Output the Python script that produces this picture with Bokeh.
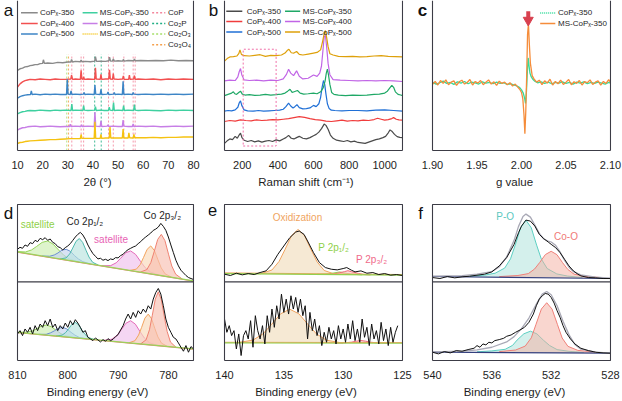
import numpy as np
from bokeh.plotting import figure
from bokeh.models import Range1d, FixedTicker, NumeralTickFormatter
from bokeh.layouts import row, column
from bokeh.core.properties import value
from bokeh.embed import file_html
from bokeh.resources import INLINE

FONT = "Liberation Sans"
AX = "#3c3c46"
TXT = "#1e1e1e"

# ---------------- (a) XRD ----------------
xrd_x_350 = [10, 11, 12, 13, 14, 15, 16, 17, 18, 19, 20, 20.3, 20.7, 22, 24, 26, 28, 30, 31.2, 31.5, 31.9, 33, 35, 35.3, 35.7, 37, 39,
             40.7, 41.0, 41.4, 43, 45, 46.3, 46.6, 47, 47.8, 48.1, 48.5, 50, 51.8, 52.1, 52.5, 54, 56.2, 56.5, 56.9, 59, 62, 65, 68, 71, 74, 77, 80]
xrd_y_350 = [250, 255, 257, 261, 262, 265, 266, 268, 268, 271, 272, 283, 272, 273, 272, 275, 274, 276, 276, 284, 276, 278, 277, 282, 277, 278, 277,
             279, 293, 278, 279, 278, 280, 291, 279, 279, 286, 279, 280, 279, 284, 279, 281, 280, 285, 280, 281, 280, 281, 280, 282, 280, 281, 280]
xrd_x_400 = [10, 11, 12, 13, 14, 15, 17, 19, 21, 23, 25, 27, 29, 31.2, 31.5, 31.9, 33, 35.0, 35.3, 35.6, 36.1, 36.3, 36.6, 38, 40.7, 41.0, 41.3,
             42.9, 43.2, 43.5, 45, 46.3, 46.6, 46.9, 47.8, 48.1, 48.4, 50, 51.8, 52.1, 52.4, 54.2, 54.5, 54.8, 56.2, 56.5, 56.8, 58, 61, 64, 67, 70, 73, 76, 80]
xrd_y_400 = [198, 208, 214, 218, 220, 222, 221, 223, 222, 221, 223, 222, 222, 223, 235, 222, 223, 222, 250, 223, 222, 230, 222, 223, 222, 258, 223,
             222, 238, 222, 223, 223, 252, 223, 222, 240, 223, 222, 223, 233, 222, 222, 235, 222, 223, 234, 222, 223, 222, 223, 221, 223, 222, 223, 222]
xrd_x_500 = [10, 11, 12, 13, 14, 15.2, 15.5, 15.8, 17, 19, 21, 23, 25, 27, 29.5, 29.8, 30.1, 31.0, 31.3, 31.6, 33, 35, 36.2, 36.5, 36.8, 38,
             40.5, 40.8, 41.1, 42.9, 43.2, 43.5, 45.7, 46.0, 46.3, 48.2, 48.5, 48.8, 50, 51.7, 52.0, 52.3, 54, 55.7, 56.0, 56.3, 58, 61, 64, 67, 70, 73, 76, 80]
xrd_y_500 = [163, 168, 171, 173, 174, 175, 186, 175, 176, 174, 176, 175, 176, 175, 175, 222, 176, 175, 186, 175, 176, 175, 176, 181, 175, 176,
             175, 204, 176, 175, 191, 175, 176, 183, 175, 176, 181, 175, 176, 175, 216, 175, 176, 175, 181, 176, 175, 176, 175, 176, 175, 176, 175, 176]
xrd_x_ms350 = [10, 11, 12, 13, 14, 15, 17, 19, 21, 23, 25, 27, 29, 31.3, 31.6, 31.9, 33, 36.0, 36.3, 36.6, 38, 40.7, 41.0, 41.3, 43, 44.5,
               46.2, 46.5, 46.8, 47.9, 48.2, 48.5, 50, 51.9, 52.2, 52.5, 54, 56.2, 56.5, 56.8, 58, 61, 64, 67, 70, 73, 76, 80]
xrd_y_ms350 = [114, 118, 121, 122, 124, 125, 124, 126, 125, 124, 126, 125, 126, 125, 145, 125, 126, 125, 140, 126, 125, 126, 137, 125, 126, 125,
               125, 135, 126, 125, 150, 125, 126, 125, 140, 125, 126, 125, 143, 126, 125, 126, 125, 124, 126, 125, 126, 125]
xrd_x_ms400 = [10, 11, 12, 13, 14, 15, 17, 19, 21, 23, 25, 27, 29, 30.7, 31.0, 31.3, 33, 35.2, 35.5, 35.8, 38, 40.5, 40.8, 41.1, 42.9, 43.2, 43.5,
               45.7, 46.0, 46.3, 48, 50, 51.7, 52.0, 52.3, 54, 55.7, 56.0, 56.3, 58, 61, 64, 67, 70, 73, 76, 80]
xrd_y_ms400 = [64, 68, 71, 72, 74, 75, 76, 74, 75, 76, 75, 74, 75, 75, 82, 75, 76, 75, 80, 75, 76, 75, 120, 76, 75, 93, 75,
               76, 80, 75, 76, 75, 75, 95, 76, 75, 75, 83, 75, 76, 75, 76, 74, 75, 76, 75, 76]
xrd_x_ms500 = [10, 11, 12, 13, 14, 15, 17, 19, 21, 23, 25, 27, 29, 31, 33, 35.0, 35.3, 35.6, 38, 40.5, 40.8, 41.1, 42.9, 43.2, 43.5, 45,
               46.5, 46.8, 47.1, 49, 51.7, 52.0, 52.3, 54.0, 54.3, 54.6, 56.0, 56.3, 56.6, 58, 61, 64, 67, 70, 73, 76, 80]
xrd_y_ms500 = [22, 25, 26, 28, 29, 30, 31, 32, 33, 34, 34, 35, 36, 37, 37, 37, 50, 38, 38, 38, 90, 38, 38, 50, 38, 39,
               39, 73, 39, 39, 39, 67, 39, 39, 55, 40, 39, 50, 40, 40, 40, 41, 40, 41, 41, 42, 42]
ref_cop = [31.6, 35.3, 36.3, 46.2, 48.1, 52.3, 56.0, 56.8]
ref_co2p = [40.7, 43.3]
ref_co2o3 = [29.6]
ref_co3o4 = [30.3]
ref_line_top = 300
xrd_ticks = [10, 20, 30, 40, 50, 60, 70, 80]

# ---------------- (b) Raman ----------------
ram_x_350 = [100, 115, 130, 145, 160, 172, 182, 190, 198, 210, 230, 250, 270, 290, 310, 330, 350, 370, 390, 410,
             430, 445, 460, 475, 490, 505, 520, 540, 560, 580, 600, 615, 630, 645, 660, 670, 682, 695, 710, 730,
             750, 770, 790, 810, 830, 850, 870, 890, 910, 930, 950, 970, 990, 1005, 1020, 1030, 1040, 1055, 1070, 1085, 1100]
ram_y_350 = [22, 30, 36, 34, 44, 38, 48, 54, 40, 32, 28, 31, 27, 30, 26, 29, 31, 28, 33, 30,
             36, 40, 47, 38, 36, 40, 44, 38, 36, 40, 46, 50, 57, 68, 82, 78, 66, 48, 38, 32,
             30, 28, 31, 27, 29, 25, 24, 22, 26, 30, 34, 36, 40, 44, 55, 64, 60, 50, 43, 41, 40]
ram_x_400 = [100, 130, 160, 190, 220, 250, 280, 310, 340, 370, 400, 430, 460, 490, 520, 550, 580, 610, 640, 670,
             700, 730, 760, 790, 820, 850, 880, 910, 940, 960, 980, 1000, 1020, 1040, 1050, 1065, 1080, 1100]
ram_y_400 = [90, 93, 91, 95, 93, 92, 95, 93, 94, 96, 95, 97, 99, 102, 105, 103, 99, 96, 94, 91,
             90, 92, 94, 91, 93, 92, 94, 93, 96, 100, 97, 94, 96, 99, 102, 97, 95, 94]
ram_x_500 = [100, 120, 140, 160, 175, 183, 190, 197, 210, 230, 260, 290, 320, 350, 380, 410, 430, 445, 460, 472,
             485, 495, 507, 520, 540, 560, 580, 600, 615, 630, 640, 648, 656, 663, 670, 678, 688, 700, 720, 760,
             800, 850, 900, 950, 1000, 1050, 1100]
ram_y_500 = [122, 124, 123, 126, 134, 148, 154, 140, 126, 123, 122, 124, 122, 123, 124, 125, 128, 136, 147, 138,
             132, 136, 142, 133, 129, 130, 132, 140, 136, 145, 165, 195, 217, 205, 175, 145, 130, 125, 124, 123,
             124, 124, 123, 125, 126, 124, 122]
ram_x_ms350 = [100, 120, 140, 150, 158, 168, 180, 190, 200, 215, 240, 270, 300, 330, 360, 390, 420, 440, 455, 468,
               480, 495, 510, 525, 545, 570, 600, 620, 640, 655, 665, 672, 678, 684, 692, 702, 715, 740, 780, 820,
               860, 900, 940, 970, 1000, 1015, 1030, 1040, 1050, 1060, 1075, 1090, 1100]
ram_y_ms350 = [170, 174, 178, 182, 176, 174, 180, 184, 175, 172, 173, 171, 172, 174, 172, 173, 175, 178, 184, 190,
               180, 183, 186, 178, 175, 176, 178, 176, 182, 195, 215, 240, 252, 235, 205, 180, 174, 172, 170, 172,
               171, 172, 174, 175, 178, 184, 195, 202, 196, 182, 174, 172, 170]
ram_x_ms400 = [100, 130, 160, 175, 183, 190, 197, 210, 240, 280, 320, 360, 400, 430, 448, 460, 472, 488, 505, 520,
               540, 570, 600, 620, 635, 645, 653, 660, 667, 674, 682, 692, 710, 750, 800, 850, 900, 950, 1000, 1050, 1100]
ram_y_ms400 = [216, 218, 217, 228, 245, 254, 235, 219, 217, 218, 216, 218, 217, 222, 236, 252, 240, 232, 247, 230,
               222, 224, 234, 230, 240, 262, 310, 352, 357, 320, 270, 235, 220, 218, 217, 216, 217, 216, 217, 216, 214]
ram_x_ms500 = [100, 115, 130, 150, 170, 180, 187, 195, 210, 240, 270, 300, 330, 360, 390, 420, 440, 452, 462, 475,
               490, 505, 520, 540, 570, 600, 620, 640, 652, 660, 667, 674, 682, 692, 710, 740, 780, 820, 860, 900,
               940, 980, 1020, 1060, 1100]
ram_y_ms500 = [277, 285, 290, 291, 293, 300, 312, 298, 294, 293, 295, 297, 292, 295, 294, 296, 302, 310, 314, 303,
               302, 307, 298, 296, 299, 302, 304, 312, 340, 362, 372, 350, 322, 300, 296, 292, 291, 292, 290, 291,
               293, 294, 292, 291, 290]
ram_box_x = [205, 390]
ram_box_y = [14, 314]
ram_ticks = [200, 400, 600, 800, 1000]

# ---------------- (c) EPR ----------------
epr_x_cop = [1.900, 1.904, 1.908, 1.912, 1.916, 1.920, 1.924, 1.928, 1.932, 1.936,
             1.940, 1.944, 1.948, 1.952, 1.956, 1.960, 1.964, 1.968, 1.972, 1.976,
             1.980, 1.984, 1.988, 1.992, 1.995, 1.998, 2.000, 2.002, 2.0035, 2.0045,
             2.0055, 2.0065, 2.0075, 2.0085, 2.0095, 2.011, 2.013, 2.015, 2.018, 2.022,
             2.026, 2.030, 2.034, 2.038, 2.042, 2.046, 2.050, 2.054, 2.058, 2.062,
             2.066, 2.070, 2.074, 2.078, 2.082, 2.086, 2.090, 2.094, 2.098, 2.100]
epr_y_cop = [212, 206, 210, 215, 208, 211, 205, 213, 209, 214,
             207, 212, 210, 206, 213, 209, 211, 207, 212, 208,
             210, 205, 207, 203, 200, 195, 188, 178, 162, 146,
             180, 240, 287, 262, 240, 228, 220, 215, 210, 213,
             208, 212, 207, 211, 209, 213, 208, 211, 206, 212,
             209, 213, 207, 211, 208, 212, 209, 206, 211, 209]
epr_x_ms = [1.900, 1.903, 1.906, 1.909, 1.912, 1.915, 1.918, 1.921, 1.924, 1.927,
            1.930, 1.933, 1.936, 1.939, 1.942, 1.945, 1.948, 1.951, 1.954, 1.957,
            1.960, 1.963, 1.966, 1.969, 1.972, 1.975, 1.978, 1.981, 1.984, 1.987,
            1.990, 1.993, 1.996, 1.998, 2.000, 2.0015, 2.0028, 2.0038, 2.0048, 2.0058,
            2.0068, 2.0078, 2.0088, 2.010, 2.012, 2.014, 2.017, 2.020, 2.023, 2.026,
            2.029, 2.032, 2.035, 2.038, 2.041, 2.044, 2.047, 2.050, 2.053, 2.056,
            2.059, 2.062, 2.065, 2.068, 2.071, 2.074, 2.077, 2.080, 2.083, 2.086,
            2.089, 2.092, 2.095, 2.098, 2.100]
epr_y_ms = [205, 214, 203, 217, 208, 219, 204, 212, 216, 202,
            213, 218, 206, 211, 220, 203, 214, 209, 217, 204,
            212, 219, 206, 213, 202, 215, 208, 212, 204, 210,
            200, 206, 196, 190, 180, 160, 110, 52, 120, 230,
            360, 392, 330, 270, 232, 222, 212, 218, 204, 216,
            209, 221, 203, 214, 207, 218, 205, 212, 220, 204,
            213, 208, 217, 203, 214, 210, 219, 205, 212, 216,
            203, 214, 208, 220, 210]
arrow_g = [2.0076]
arrow_head_y = [404]
arrow_tail_y = [432]
epr_ticks = [1.90, 1.95, 2.00, 2.05, 2.10]

# ---------------- (d) Co 2p XPS ----------------
co_x = [810, 809.5, 809, 808.5, 808, 807.5, 807, 806.5, 806, 805.5, 805, 804.5, 804, 803.5, 803, 802.5, 802, 801.5,
        801, 800.5, 800, 799.5, 799, 798.5, 798, 797.5, 797, 796.5, 796, 795.5, 795, 794.5, 794, 793.5, 793, 792.5,
        792, 791.5, 791, 790.5, 790, 789.5, 789, 788.5, 788, 787.5, 787, 786.5, 786, 785.5, 785, 784.5, 784, 783.5,
        783, 782.5, 782, 781.5, 781, 780.5, 780, 779.5, 779, 778.5, 778, 777.5, 777, 776.5, 776, 775.5, 775]
co_top_y = [335, 341, 338, 348, 344, 355, 352, 362, 358, 368, 364, 370, 362, 366, 356, 352, 343, 340,
            333, 340, 345, 352, 362, 372, 380, 386, 378, 365, 348, 334, 322, 314, 306, 308, 302, 305,
            301, 306, 304, 310, 309, 316, 320, 328, 334, 338, 342, 345, 352, 358, 366, 372, 378, 384,
            392, 396, 402, 413, 404, 392, 372, 348, 325, 302, 285, 272, 264, 256, 250, 247, 244]
co_bot_y = [80, 90, 75, 95, 85, 100, 80, 105, 90, 110, 100, 120, 105, 125, 100, 110, 90, 105,
            95, 113, 100, 120, 107, 123, 113, 100, 85, 90, 70, 65, 60, 68, 62, 56, 63, 58,
            66, 60, 64, 72, 78, 92, 105, 125, 140, 125, 145, 130, 150, 140, 155, 145, 165, 155,
            185, 205, 217, 200, 165, 125, 100, 85, 70, 65, 53, 40, 28, 45, 25, 42, 35]
co_top_bg_x = [810, 775]
co_top_bg_y = [327, 240]
co_bot_bg_x = [810, 775]
co_bot_bg_y = [85, 35]
co_top_comps = [
    ([810, 808.4, 807.2, 806.2, 805.1, 804, 802.9, 801.8, 800.8, 799.6, 797.6], [1, 4, 13, 26, 41, 48, 41, 26, 13, 4, 0]),
    ([805.1, 803.6, 802.7, 801.95, 801.13, 800.3, 799.47, 798.65, 797.9, 797.0, 795.5], [0, 3, 9, 17, 28, 32, 28, 17, 9, 3, 0]),
    ([801.54, 800.34, 799.62, 799.02, 798.36, 797.7, 797.04, 796.38, 795.78, 795.06, 793.86], [0, 6, 20, 39, 61, 71, 61, 39, 20, 6, 0]),
    ([793.26, 791.46, 790.38, 789.48, 788.49, 787.5, 786.51, 785.52, 784.62, 783.54, 781.74], [0, 5, 16, 32, 51, 59, 51, 32, 16, 5, 0]),
    ([787.66, 786.36, 785.58, 784.93, 784.22, 783.5, 782.78, 782.07, 781.42, 780.64, 779.34], [0, 7, 23, 46, 72, 84, 72, 46, 23, 7, 0]),
    ([785.56, 784.26, 783.48, 782.83, 782.12, 781.4, 780.68, 779.97, 779.32, 778.54, 777.24], [0, 11, 34, 68, 107, 124, 107, 68, 34, 11, 0]),
]
co_bot_comps = [
    ([809.96, 808.16, 807.08, 806.18, 805.19, 804.2, 803.21, 802.22, 801.32, 800.24, 798.44], [0, 3, 8, 16, 26, 30, 26, 16, 8, 3, 0]),
    ([805.8, 804.3, 803.4, 802.65, 801.83, 801, 800.17, 799.35, 798.6, 797.7, 796.2], [0, 2, 8, 15, 24, 28, 24, 15, 8, 2, 0]),
    ([802.34, 801.14, 800.42, 799.82, 799.16, 798.5, 797.84, 797.18, 796.58, 795.86, 794.66], [0, 4, 13, 25, 40, 46, 40, 25, 13, 4, 0]),
    ([792.94, 791.24, 790.22, 789.37, 788.44, 787.5, 786.56, 785.63, 784.78, 783.76, 782.06], [0, 6, 19, 37, 58, 67, 58, 37, 19, 6, 0]),
    ([787.84, 786.64, 785.92, 785.32, 784.66, 784, 783.34, 782.68, 782.08, 781.36, 780.16], [0, 8, 26, 50, 79, 92, 79, 50, 26, 8, 0]),
    ([785.52, 784.42, 783.76, 783.21, 782.6, 782, 781.4, 780.79, 780.24, 779.58, 778.48], [0, 14, 45, 88, 139, 162, 139, 88, 45, 14, 0]),
]
co_comp_colors = [("#cdeeb0", "#95d45a"), ("#c3d2ee", "#6b8fd0"), ("#b8e4df", "#4fb8ad"),
                  ("#f0c0ec", "#e46ab8"), ("#f9d9b8", "#f2a35e"), ("#f7bfb0", "#ef8272")]
co_ticks = [810, 800, 790, 780]

# ---------------- (e) P 2p XPS ----------------
p_top_x = [140, 139.5, 139, 138.5, 138, 137.5, 137, 136.5, 136, 135.5, 135, 134.5, 134, 133.7, 133.3, 133, 132.5,
           132, 131.5, 131, 130.5, 130, 129.7, 129.3, 129, 128.5, 128, 127.5, 127, 126.5, 126, 125.5, 125]
p_top_y = [260, 256, 263, 258, 262, 259, 265, 270, 290, 320, 345, 370, 387, 390, 380, 360, 325,
           295, 280, 275, 273, 277, 280, 272, 267, 270, 263, 265, 259, 262, 257, 259, 256]
p_bot_x = [140, 139.8, 139.6, 139.4, 139.2, 139, 138.8, 138.6, 138.4, 138.2, 138, 137.8, 137.6, 137.4, 137.2,
           137, 136.8, 136.6, 136.4, 136.2, 136, 135.8, 135.6, 135.4, 135.2, 135, 134.8, 134.6, 134.4, 134.2,
           134, 133.8, 133.6, 133.4, 133.2, 133, 132.8, 132.6, 132.4, 132.2, 132, 131.8, 131.6, 131.4, 131.2,
           131, 130.8, 130.6, 130.4, 130.2, 130, 129.8, 129.6, 129.4, 129.2, 129, 128.8, 128.6, 128.4, 128.2,
           128, 127.8, 127.6, 127.4, 127.2, 127, 126.8, 126.6, 126.4, 126.2, 126, 125.8, 125.6, 125.4]
p_bot_y = [125, 85, 105, 75, 90, 35, 80, 15, 75, 90, 65, 120, 40, 135, 90,
           65, 105, 50, 135, 85, 155, 100, 165, 125, 200, 145, 185, 140, 195, 155,
           190, 145, 185, 135, 165, 65, 145, 90, 125, 75, 105, 45, 85, 55, 100,
           65, 90, 50, 105, 65, 95, 55, 110, 65, 120, 60, 95, 55, 125, 70,
           100, 45, 110, 65, 90, 50, 115, 60, 95, 45, 100, 55, 85, 105]
p_top_bg_x = [140, 125]
p_top_bg_y = [262, 257]
p_bot_bg_x = [140, 125]
p_bot_bg_y = [53, 52]
p_top_comps = [
    ([137.0, 136.0, 135.4, 134.9, 134.35, 133.8, 133.25, 132.7, 132.2, 131.6, 130.6], [0, 12, 38, 74, 116, 135, 116, 74, 38, 12, 0]),
    ([132.2, 131.6, 131.2, 130.6, 130.3, 130.0, 129.4, 129.0, 128.4], [0, 1, 2, 6, 8, 6, 2, 1, 0]),
    ([131.5, 130.9, 130.5, 129.9, 129.6, 129.3, 128.7, 128.3, 127.7], [0, 1, 4, 9, 12, 9, 4, 1, 0]),
]
p_bot_comps = [
    ([138.98, 137.58, 136.74, 136.04, 135.27, 134.5, 133.73, 132.96, 132.26, 131.42, 130.02], [0, 9, 28, 56, 88, 102, 88, 56, 28, 9, 0]),
    ([130.7, 129.9, 129.3, 128.9, 128.5, 128.1, 127.7, 127.1, 126.3], [0, 1, 3, 6, 8, 6, 3, 1, 0]),
]
p_comp_colors = [("#f1ddbd", "#f0a460"), ("#d8f0b8", "#92d050"), ("#f8c6c6", "#f06a7a")]
p_ticks = [140, 135, 130, 125]

# ---------------- (f) O 1s XPS ----------------
o_top_x = [540, 539.5, 539, 538.5, 538, 537.5, 537, 536.5, 536, 535.5, 535, 534.5, 534.2, 534, 533.7, 533.4,
           533.1, 532.8, 532.5, 532.2, 532, 531.7, 531.4, 531.1, 530.8, 530.5, 530.2, 530, 529.5, 529, 528.5, 528]
o_top_y = [250, 247, 253, 249, 252, 254, 257, 260, 267, 285, 310, 350, 385, 405, 423, 420,
           405, 380, 367, 357, 350, 340, 325, 305, 285, 270, 260, 255, 250, 249, 247, 247]
o_bot_x = [540, 539.6, 539.2, 538.8, 538.4, 538, 537.6, 537.2, 537, 536.8, 536.6, 536.4, 536.2, 536, 535.8,
           535.5, 535.2, 535, 534.7, 534.4, 534.1, 533.8, 533.5, 533.2, 533, 532.8, 532.6, 532.4, 532.2, 532,
           531.8, 531.6, 531.4, 531.2, 531, 530.7, 530.4, 530, 529.5, 529, 528.5, 528]
o_bot_y = [25, 20, 27, 23, 30, 28, 33, 37, 45, 40, 50, 47, 55, 53, 60,
           63, 67, 73, 77, 85, 92, 100, 115, 140, 165, 185, 195, 202, 200, 190,
           173, 150, 130, 105, 85, 65, 50, 37, 30, 25, 23, 22]
o_top_env_x = [540, 538, 537, 536, 535.5, 535, 534.5, 534.2, 533.9, 533.7, 533.4, 533.1, 532.8, 532.5, 532.2, 532,
               531.7, 531.4, 531.1, 530.8, 530.5, 530, 529, 528]
o_top_env_y = [254, 256, 260, 268, 282, 312, 362, 404, 434, 441, 432, 408, 383, 366, 360, 357,
               347, 327, 302, 281, 268, 258, 251, 248]
o_bot_env_x = [540, 538, 537, 536, 535, 534.5, 534, 533.5, 533, 532.6, 532.3, 532, 531.6, 531.2, 530.8, 530.4, 530, 529, 528]
o_bot_env_y = [26, 28, 32, 40, 56, 72, 96, 128, 170, 200, 208, 198, 165, 118, 78, 48, 34, 25, 22]
o_top_bg_x = [540, 528]
o_top_bg_y = [253, 247]
o_bot_bg_x = [540, 528]
o_bot_bg_y = [25, 22]
o_top_comps = [
    ([537.5, 536.5, 535.78, 535.13, 534.74, 534.42, 534.06, 533.7, 533.34, 532.98, 532.66, 532.27, 531.62, 530.9, 529.9],
     [2, 6, 12, 28, 56, 98, 150, 173, 150, 98, 56, 28, 12, 6, 2]),
    ([535.5, 534.24, 533.54, 533.12, 532.77, 532.39, 532.0, 531.61, 531.23, 530.88, 530.46, 529.76, 528.5],
     [2, 6, 12, 26, 46, 70, 80, 70, 46, 26, 12, 6, 2]),
]
o_bot_comps = [
    ([537, 536.0, 535.1, 534.6, 534.3, 533.84, 533.4, 532.96, 532.52, 532.1, 531.6, 530.8, 529.8],
     [2, 5, 10, 22, 38, 57, 65, 57, 38, 22, 10, 5, 2]),
    ([535.5, 534.4, 533.75, 533.34, 533.02, 532.66, 532.3, 531.94, 531.58, 531.26, 530.87, 530.2, 529.0],
     [3, 8, 20, 45, 86, 132, 151, 132, 86, 45, 20, 8, 3]),
]
o_comp_colors = [("#a9e2da", "#5ccfc2"), ("#f4ad9f", "#ef8079")]
o_ticks = [540, 536, 532, 528]


# ---------------- helpers ----------------
def xy(x, y):
    n = min(len(x), len(y))
    return list(x[:n]), list(y[:n])


class Panel:
    def __init__(self, w, h, xr, yr, L, fw, fh, mr, mt, mb, box, ticks, xlabel, fmt=None, ls=3, als=4, lab_off=10):
        self.x0, self.x1 = xr
        self.y0, self.y1 = yr
        self.dx = (self.x1 - self.x0) / fw
        self.dy = (self.y1 - self.y0) / fh
        self.L = L
        self.lab_off = lab_off
        p = figure(width=w, height=h,
                   x_range=Range1d(self.x0 - L * self.dx, self.x1 + 1 * self.dx),
                   y_range=Range1d(self.y0 - 1 * self.dy, self.y1 + 1 * self.dy),
                   output_backend="svg", toolbar_location=None,
                   min_border_left=0, min_border_right=mr, min_border_top=mt, min_border_bottom=mb)
        p.background_fill_color = "white"
        p.border_fill_color = "white"
        p.outline_line_color = None
        p.xgrid.visible = False
        p.ygrid.visible = False
        p.yaxis.visible = False
        ax = p.xaxis[0]
        ax.ticker = FixedTicker(ticks=ticks)
        ax.axis_line_color = None
        ax.major_tick_line_color = None
        ax.minor_tick_line_color = None
        ax.major_label_text_font = FONT
        ax.major_label_text_font_size = "11px"
        ax.major_label_text_color = TXT
        ax.major_label_standoff = ls
        ax.axis_label = xlabel
        ax.axis_label_text_font = FONT
        ax.axis_label_text_font_size = "11.5px"
        ax.axis_label_text_font_style = "normal"
        ax.axis_label_text_color = TXT
        ax.axis_label_standoff = als
        if fmt:
            ax.formatter = NumeralTickFormatter(format=fmt)
        self.p = p
        self.box = box

    def frame_lines(self):
        p, x0, x1, y0, y1 = self.p, self.x0, self.x1, self.y0, self.y1
        if self.box:
            p.line([x0, x0, x1, x1, x0], [y0, y1, y1, y0, y0], line_color=AX, line_width=1.1)
        else:
            top = y1 + 1 * self.dy
            p.line([x0, x0], [y0, top], line_color=AX, line_width=1.1)
            p.line([x1, x1], [y0, top], line_color=AX, line_width=1.1)
            p.line([x0, x1], [y0, y0], line_color=AX, line_width=1.1)

    def hline(self, yv):
        self.p.line([self.x0, self.x1], [yv, yv], line_color=AX, line_width=1.2)

    def label(self, txt, bold=False):
        self.p.text(x=[self.x0 - self.lab_off * self.dx], y=[self.y1 + 1 * self.dy], text=[txt],
                    text_font=value(FONT), text_font_size="17px", text_color="#111111",
                    text_align="center", text_baseline="top",
                    text_font_style="bold" if bold else "normal")

    def legend(self, items, x0f, x1f, xtf, yfs, size="8px"):
        X0, X1, Y0, Y1 = self.x0, self.x1, self.y0, self.y1
        for (lab, col, dash), yf in zip(items, yfs):
            y = Y1 - yf * (Y1 - Y0)
            self.p.line([X0 + x0f * (X1 - X0), X0 + x1f * (X1 - X0)], [y, y], line_color=col, line_width=1.5, line_dash=dash)
            self.p.text(x=[X0 + xtf * (X1 - X0)], y=[y], text=[lab], text_font=value(FONT), text_font_size=size,
                        text_baseline="middle", text_align="left", text_color=TXT)

    def note(self, x, y, txt, color, size="10px"):
        self.p.text(x=[x], y=[y], text=[txt], text_font=value(FONT), text_font_size=size,
                    text_baseline="middle", text_align="center", text_color=color)

    def comps(self, comps, colors, bgx, bgy, alpha=0.65):
        slope = (bgy[1] - bgy[0]) / (bgx[1] - bgx[0])
        for (cx, ch), (fill, line) in zip(comps, colors):
            cx, ch = xy(cx, ch)
            cx = np.array(cx, dtype=float)
            base = bgy[0] + (cx - bgx[0]) * slope
            top = base + np.array(ch, dtype=float)
            self.p.varea(x=cx, y1=base, y2=top, fill_color=fill, fill_alpha=alpha)
            self.p.line(cx, top, line_color=line, line_width=1)


TOP_H, BOT_H = 190, 210
FH1, FH2 = 154, 160

# ---------------- panel a ----------------
A = Panel(208, TOP_H, (10, 80), (0, 465), 17, 176, FH1, 14, 0, 34, False, xrd_ticks, "2θ (°)", lab_off=9)
pa = A.p
for pos_list, col in [(ref_cop, "#f3869c"), (ref_co2p, "#1fae84"), (ref_co2o3, "#a6df6a"), (ref_co3o4, "#f5a04c")]:
    for xv in pos_list:
        pa.line([xv, xv], [0, ref_line_top], line_color=col, line_width=1, line_dash="2 2", line_alpha=0.85)
a_series = [(xrd_x_350, xrd_y_350, "#8a8a8a"), (xrd_x_400, xrd_y_400, "#f25050"), (xrd_x_500, xrd_y_500, "#3d85c6"),
            (xrd_x_ms350, xrd_y_ms350, "#3fd0a0"), (xrd_x_ms400, xrd_y_ms400, "#c77ee6"), (xrd_x_ms500, xrd_y_ms500, "#f5c211")]
for xs_, ys_, col in a_series:
    X, Y = xy(xs_, ys_)
    pa.line(X, Y, line_color=col, line_width=1.4)
A.frame_lines()
A.legend([("CoPₓ-350", "#8a8a8a", "solid"), ("CoPₓ-400", "#f25050", "solid"), ("CoPₓ-500", "#3d85c6", "solid")],
         0.02, 0.115, 0.128, [0.075, 0.148, 0.218])
A.legend([("MS-CoPₓ-350", "#3fd0a0", "solid"), ("MS-CoPₓ-400", "#c77ee6", "solid"), ("MS-CoPₓ-500", "#f5c211", "1 1")],
         0.37, 0.455, 0.468, [0.075, 0.148, 0.218])
A.legend([("CoP", "#f3869c", "2 2"), ("Co₂P", "#1fae84", "2 2"), ("Co₂O₃", "#a6df6a", "2 2"), ("Co₃O₄", "#f5a04c", "2 2")],
         0.765, 0.84, 0.855, [0.075, 0.148, 0.218, 0.29])
A.label("a")

# ---------------- panel b ----------------
B = Panel(209, TOP_H, (100, 1100), (0, 462), 16, 178, FH1, 14, 0, 34, False, ram_ticks, "Raman shift (cm⁻¹)", lab_off=11)
pb = B.p
b_series = [(ram_x_350, ram_y_350, "#4a4a4a"), (ram_x_400, ram_y_400, "#f03c3c"), (ram_x_500, ram_y_500, "#1f6fd6"),
            (ram_x_ms350, ram_y_ms350, "#1fa866"), (ram_x_ms400, ram_y_ms400, "#c165e6"), (ram_x_ms500, ram_y_ms500, "#dea00a")]
for xs_, ys_, col in b_series:
    X, Y = xy(xs_, ys_)
    pb.line(X, Y, line_color=col, line_width=1.2)
pb.line([ram_box_x[0], ram_box_x[1], ram_box_x[1], ram_box_x[0], ram_box_x[0]],
        [ram_box_y[0], ram_box_y[0], ram_box_y[1], ram_box_y[1], ram_box_y[0]],
        line_color="#f070a8", line_width=1, line_dash="2 2")
B.frame_lines()
B.legend([("CoPₓ-350", "#4a4a4a", "solid"), ("CoPₓ-400", "#f03c3c", "solid"), ("CoPₓ-500", "#1f6fd6", "solid")],
         0.01, 0.10, 0.125, [0.065, 0.135, 0.205])
B.legend([("MS-CoPₓ-350", "#1fa866", "solid"), ("MS-CoPₓ-400", "#c165e6", "solid"), ("MS-CoPₓ-500", "#dea00a", "solid")],
         0.34, 0.425, 0.44, [0.065, 0.135, 0.205])
B.label("b")

# ---------------- panel c ----------------
C = Panel(205, TOP_H, (1.90, 2.10), (0, 462), 15, 178, FH1, 11, 0, 34, False, epr_ticks, "g value", fmt="0.00", lab_off=10)
pc = C.p
X, Y = xy(epr_x_cop, epr_y_cop)
pc.line(X, Y, line_color="#33dd9a", line_width=1.3)
X, Y = xy(epr_x_ms, epr_y_ms)
pc.line(X, Y, line_color="#f58c3a", line_width=1.3)
pc.segment(x0=arrow_g, y0=arrow_head_y, x1=arrow_g, y1=arrow_tail_y, line_color="#d8404f", line_width=4)
pc.scatter(x=arrow_g, y=arrow_head_y, marker="inverted_triangle", size=10, fill_color="#d8404f", line_color="#d8404f")
C.frame_lines()
C.legend([("CoPₓ-350", "#33dd9a", "1 1"), ("MS-CoPₓ-350", "#f58c3a", "solid")],
         0.605, 0.69, 0.705, [0.077, 0.148])
C.label("c", bold=True)

# ---------------- panel d ----------------
D = Panel(208, BOT_H, (810, 775), (0, 470), 17, 176, FH2, 14, 13, 35, True, co_ticks, "Binding energy (eV)", lab_off=9)
pd_ = D.p
for bgx, bgy, comps in [(co_top_bg_x, co_top_bg_y, co_top_comps), (co_bot_bg_x, co_bot_bg_y, co_bot_comps)]:
    D.comps(comps, co_comp_colors, bgx, bgy)
    pd_.line(bgx, [v - 1 for v in bgy], line_color="#f07a7a", line_width=1)
    pd_.line(bgx, bgy, line_color="#9ad35a", line_width=1.2)
X, Y = xy(co_x, co_top_y)
pd_.line(X, Y, line_color="#111111", line_width=1)
X, Y = xy(co_x, co_bot_y)
pd_.line(X, Y, line_color="#111111", line_width=1)
D.hline(237)
D.frame_lines()
D.note(806.0, 410, "satellite", "#8fd048")
D.note(796.6, 420, "Co 2p₁/₂", TXT)
D.note(791.4, 365, "satellite", "#e863b4")
D.note(781.2, 437, "Co 2p₃/₂", TXT)
D.label("d")

# ---------------- panel e ----------------
E = Panel(209, BOT_H, (140, 125), (0, 470), 16, 178, FH2, 14, 13, 35, True, p_ticks, "Binding energy (eV)", lab_off=12)
pe = E.p
E.comps(p_top_comps, p_comp_colors, p_top_bg_x, p_top_bg_y)
E.comps(p_bot_comps, [p_comp_colors[0], p_comp_colors[2]], p_bot_bg_x, p_bot_bg_y)
for bgx, bgy in [(p_top_bg_x, p_top_bg_y), (p_bot_bg_x, p_bot_bg_y)]:
    pe.line(bgx, [v + 2 for v in bgy], line_color="#f0a460", line_width=1)
    pe.line(bgx, bgy, line_color="#92d050", line_width=1.2)
X, Y = xy(p_top_x, p_top_y)
pe.line(X, Y, line_color="#111111", line_width=1)
X, Y = xy(p_bot_x, p_bot_y)
pe.line(X, Y, line_color="#111111", line_width=1)
E.hline(237)
E.frame_lines()
E.note(133.85, 430, "Oxidization", "#f0a460")
E.note(130.8, 340, "P 2p₁/₂", "#8fd048")
E.note(127.6, 305, "P 2p₃/₂", "#f06a8a")
E.label("e")

# ---------------- panel f ----------------
F = Panel(205, BOT_H, (540, 528), (0, 470), 15, 178, FH2, 11, 13, 35, True, o_ticks, "Binding energy (eV)", lab_off=12)
pf = F.p
for bgx, bgy, comps in [(o_top_bg_x, o_top_bg_y, o_top_comps), (o_bot_bg_x, o_bot_bg_y, o_bot_comps)]:
    F.comps(comps, o_comp_colors, bgx, bgy, alpha=0.5)
    pf.line(bgx, bgy, line_color="#34407e", line_width=1.2)
X, Y = xy(o_top_env_x, o_top_env_y)
pf.line(X, Y, line_color="#a9a9b6", line_width=1.3)
X, Y = xy(o_bot_env_x, o_bot_env_y)
pf.line(X, Y, line_color="#a9a9b6", line_width=1.3)
X, Y = xy(o_top_x, o_top_y)
pf.line(X, Y, line_color="#111111", line_width=1)
X, Y = xy(o_bot_x, o_bot_y)
pf.line(X, Y, line_color="#111111", line_width=1)
F.hline(237)
F.frame_lines()
F.note(535.1, 433, "P-O", "#5cc8c0")
F.note(531.0, 375, "Co-O", "#ef7a76")
F.label("f")

layout = column(row(pa, pb, pc), row(pd_, pe, pf))
open("out.html", "w").write(file_html(layout, INLINE))
